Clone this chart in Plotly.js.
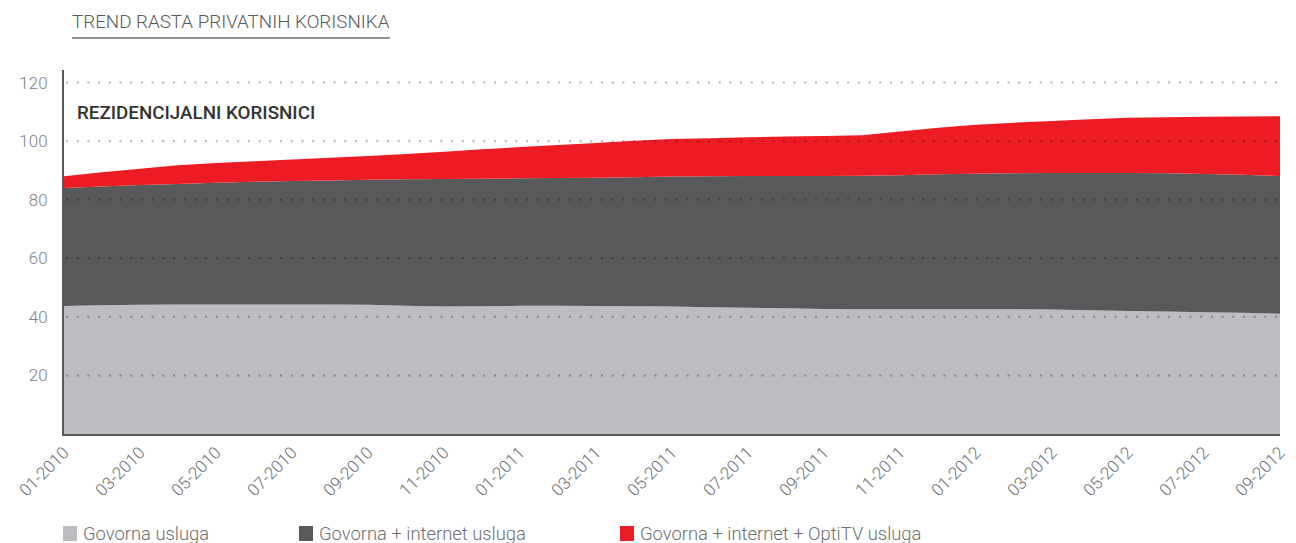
<!DOCTYPE html>
<html><head><meta charset="utf-8">
<script src="https://cdn.plot.ly/plotly-3.0.1.min.js"></script>
<style>html,body{margin:0;padding:0;background:#fff}#chart{width:1296px;height:543px}</style>
</head><body><div id="chart"></div>
<script>
const months = ['01-2010','02-2010','03-2010','04-2010','05-2010','06-2010','07-2010','08-2010','09-2010','10-2010','11-2010','12-2010',
  '01-2011','02-2011','03-2011','04-2011','05-2011','06-2011','07-2011','08-2011','09-2011','10-2011','11-2011','12-2011',
  '01-2012','02-2012','03-2012','04-2012','05-2012','06-2012','07-2012','08-2012','09-2012'];
const tickMonths = ['01-2010','03-2010','05-2010','07-2010','09-2010','11-2010','01-2011','03-2011','05-2011','07-2011','09-2011','11-2011','01-2012','03-2012','05-2012','07-2012','09-2012'];
const seriesNames = ['Govorna usluga','Govorna + internet usluga','Govorna + internet + OptiTV usluga'];
const govorna  = [43.7,44.0,44.1,44.2,44.2,44.2,44.2,44.2,44.1,43.8,43.5,43.6,43.8,43.8,43.7,43.6,43.5,43.3,43.1,42.9,42.7,42.6,42.6,42.6,42.6,42.6,42.5,42.3,42.0,41.8,41.6,41.4,41.1];
const internet = [40.3,40.5,40.9,41.2,41.6,41.9,42.2,42.4,42.7,43.2,43.6,43.6,43.5,43.6,43.8,44.1,44.4,44.7,45.0,45.2,45.4,45.6,45.8,46.1,46.3,46.4,46.6,46.8,47.1,47.2,47.2,47.1,47.0];
const optiTV   = [4.0,4.9,5.6,6.4,6.7,7.0,7.3,7.7,8.1,8.6,9.3,10.0,10.7,11.3,11.9,12.4,12.8,13.0,13.2,13.5,13.7,13.8,14.9,15.9,16.7,17.3,17.8,18.4,18.9,19.2,19.5,19.9,20.4];
const yTicks = [20,40,60,80,100,120];
const chartTitle = 'TREND RASTA PRIVATNIH KORISNIKA';
const panelLabel = 'REZIDENCIJALNI KORISNICI';

const colors = ['#bcbdc1','#58595b','#ed1c24'];
const seriesValues = [govorna, internet, optiTV];
const FONT = 'Roboto, "Open Sans", sans-serif';
const textGrey = '#6d6e71';

const traces = seriesValues.map((vals, i) => ({
  type: 'scatter', mode: 'none', x: months, y: vals, name: seriesNames[i],
  stackgroup: 'one', fillcolor: colors[i], line: {width: 0}, hoverinfo: 'skip', showlegend: false
}));

// pixel helpers for layout placement
const L = 64, R = 1280, T = 70, B = 434;
const px = v => (v - L) / (R - L);
const py = v => (B - v) / (B - T);

const shapes = yTicks.map(v => ({
  type: 'line', xref: 'paper', yref: 'y', x0: px(66), x1: 1, y0: v, y1: v, layer: 'above',
  line: {color: 'rgba(0,0,0,0.3)', width: 2, dash: '2px,8.7px'}
}));
shapes.push({type: 'line', xref: 'paper', yref: 'paper', x0: px(72), x1: px(390), y0: py(38), y1: py(38),
  line: {color: '#6d6e71', width: 1.5}});

const legendX = [63, 299, 620];
const annotations = [
  {xref: 'paper', yref: 'paper', x: px(70), y: py(22), xanchor: 'left', yanchor: 'middle', showarrow: false,
   text: chartTitle, font: {family: FONT, size: 18.8, color: '#58595b', weight: 300}},
  {xref: 'paper', yref: 'paper', x: px(75), y: py(113), xanchor: 'left', yanchor: 'middle', showarrow: false,
   text: panelLabel, font: {family: FONT, size: 18.8, color: '#333333', weight: 500}}
];
seriesNames.forEach((n, i) => {
  shapes.push({type: 'rect', xref: 'paper', yref: 'paper', x0: px(legendX[i]), x1: px(legendX[i] + 14),
    y0: py(541), y1: py(526), fillcolor: colors[i], line: {width: 0}});
  annotations.push({xref: 'paper', yref: 'paper', x: px(legendX[i] + 18), y: py(533), xanchor: 'left', yanchor: 'middle',
    showarrow: false, text: n, font: {family: FONT, size: 18.4, color: textGrey, weight: 300}});
});

const layout = {
  width: 1296, height: 543, margin: {l: L, r: 1296 - R, t: T, b: 543 - B},
  paper_bgcolor: '#fff', plot_bgcolor: '#fff', showlegend: false,
  xaxis: {type: 'category', categoryorder: 'array', categoryarray: months, range: [0, 32], autorange: false,
    tickmode: 'array', tickvals: tickMonths, ticktext: tickMonths, tickangle: -45, showgrid: false, zeroline: false,
    showline: true, linecolor: '#58595b', linewidth: 2, ticks: '',
    tickfont: {family: FONT, size: 17, color: textGrey, weight: 300}},
  yaxis: {range: [0, 124.3], autorange: false, tickmode: 'array', tickvals: yTicks, showgrid: false, zeroline: false,
    showline: true, linecolor: '#58595b', linewidth: 2, ticks: 'outside', ticklen: 11, tickcolor: 'rgba(0,0,0,0)',
    tickfont: {family: FONT, size: 17, color: '#808184', weight: 300}},
  shapes: shapes, annotations: annotations, hovermode: false
};
Plotly.newPlot('chart', traces, layout, {displayModeBar: false, staticPlot: true});
</script></body></html>
